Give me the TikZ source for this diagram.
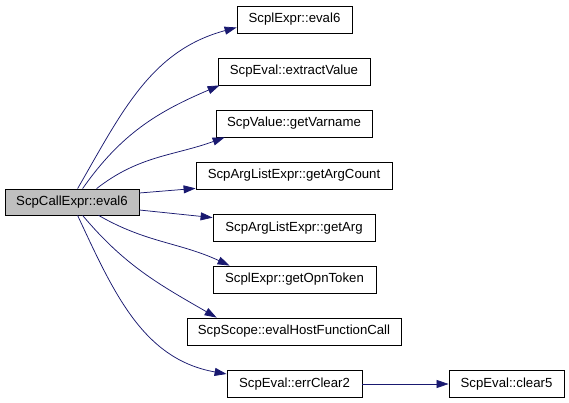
\documentclass[tikz,border=0pt]{standalone}
\usepackage{fontspec}
\setmainfont{Liberation Sans}
\usetikzlibrary{arrows.meta}
\definecolor{edgec}{HTML}{191970}
\definecolor{maing}{HTML}{BFBFBF}
\tikzset{
  box/.style={draw=black, line width=0.8pt, fill=white, minimum height=27pt, inner sep=0pt,
    font=\fontsize{13.2}{15}\selectfont},
  edge/.style={draw=edgec, line width=0.75pt, -{Triangle[length=12pt,width=8pt]}, edgec}
}
\begin{document}
\begin{tikzpicture}[x=1pt,y=1pt]
\useasboundingbox (0,0) rectangle (569,-403);
\node[box, fill=maing, minimum width=134pt, minimum height=26pt] (main) at (72,-202) {ScpCallExpr::eval6};
\node[box, minimum width=115pt] (n1) at (294.5,-19.5) {ScplExpr::eval6};
\node[box, minimum width=152pt] (n2) at (294,-71.5) {ScpEval::extractValue};
\node[box, minimum width=156pt] (n3) at (294,-123.5) {ScpValue::getVarname};
\node[box, minimum width=196pt] (n4) at (294,-175.5) {ScpArgListExpr::getArgCount};
\node[box, minimum width=162pt] (n5) at (294,-228) {ScpArgListExpr::getArg};
\node[box, minimum width=163pt] (n6) at (294.5,-279.5) {ScplExpr::getOpnToken};
\node[box, minimum width=214pt] (n7) at (294,-331.5) {ScpScope::evalHostFunctionCall};
\node[box, minimum width=135pt] (n8) at (294.5,-384) {ScpEval::errClear2};
\node[box, minimum width=115pt] (n9) at (506.5,-384) {ScpEval::clear5};

\draw[edge] ([xshift=73pt]main.north west) to[out=60,in=195] ([yshift=-8pt]n1.west);
\draw[edge] ([xshift=78pt]main.north west) to[out=55,in=203] ([xshift=2pt]n2.south west);
\draw[edge] ([xshift=92pt]main.north west) to[out=38,in=200] ([xshift=9pt]n3.south west);
\draw[edge] ([yshift=9pt]main.east) -- ([yshift=1pt]n4.south west);
\draw[edge] ([yshift=-8pt]main.east) -- ([yshift=-3.5pt]n5.north west);
\draw[edge] ([xshift=94pt]main.south west) to[out=-30,in=155] ([xshift=17pt]n6.north west);
\draw[edge] ([xshift=78pt]main.south west) to[out=-50,in=150] ([xshift=30pt]n7.north west);
\draw[edge] ([xshift=73pt]main.south west) to[out=-65,in=170] ([yshift=10pt]n8.west);
\draw[edge] (n8.east) -- (n9.west);
\end{tikzpicture}
\end{document}
